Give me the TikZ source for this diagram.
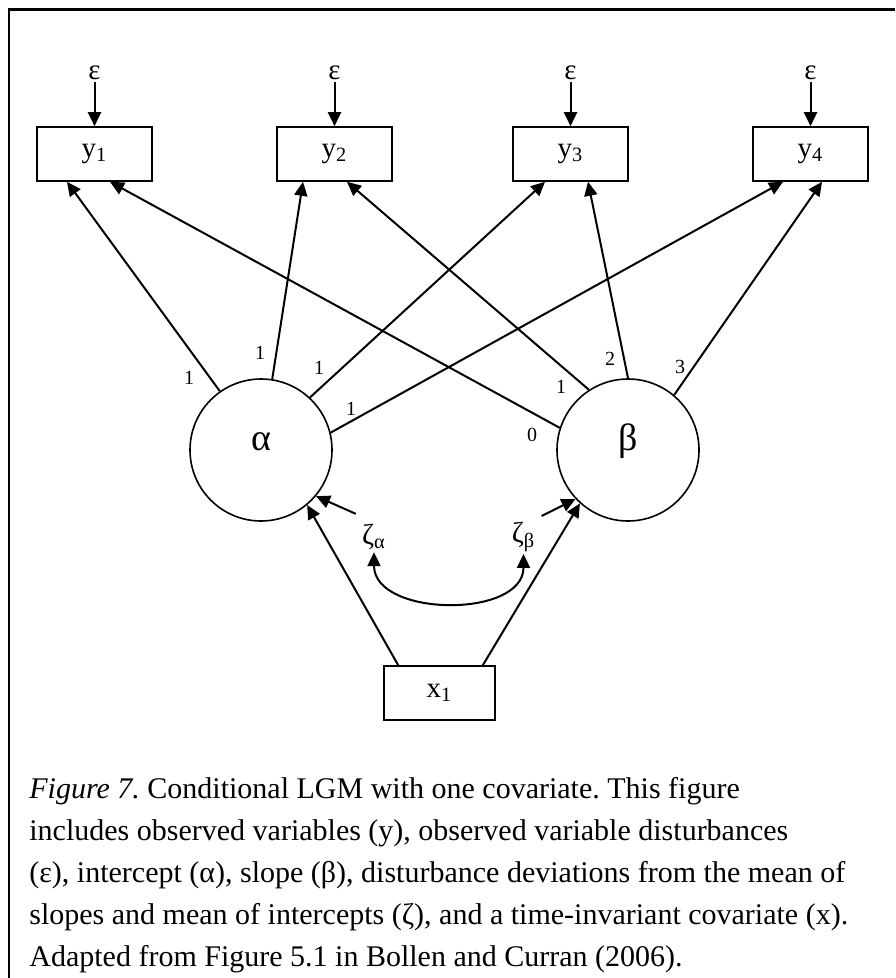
\documentclass[tikz,border=0pt]{standalone}
\usepackage{fontspec}
\setmainfont{Liberation Serif}
\usetikzlibrary{arrows.meta}

\begin{document}
\begin{tikzpicture}[
                x={(0.5pt,0pt)}, y={(0pt,-0.5pt)},
                obs/.style={draw, line width=0.8pt, minimum width=57.5pt, minimum height=27pt,
                    inner sep=0pt, font=\fontsize{14.5}{16}\selectfont},
                lat/.style={draw, circle, line width=0.8pt, minimum size=71pt, inner sep=0pt,
                    text height=6pt, text depth=6pt, font=\fontsize{19}{20}\selectfont},
                err/.style={inner sep=1pt, font=\fontsize{14.5}{16}\selectfont},
                wt/.style={inner sep=0pt, font=\fontsize{10}{12}\selectfont},
                arr/.style={line width=1pt, -{Triangle[length=7pt, width=6.5pt]}} ]

            \useasboundingbox (0,0) rectangle (895,978);
            \draw[line width=1.2pt] (9,978) -- (9,9.5) -- (895,9.5);

            % observed variables and their disturbances
            \foreach \i/\x in {1/94.5, 2/334.5, 3/570.5, 4/810.5} {
                    \node[obs] (y\i) at (\x,154) {y\textsubscript{\i}};
                    \node[err] (e\i) at (\x,73) {ε};
                    \draw[arr] (e\i) -- (y\i);
                }

            \node[lat] (alpha) at (261,450) {α};
            \node[lat] (beta) at (628,450) {β};

            % loadings
            \foreach \i/\ang/\dx/\lx/\ly in {1/125/-13.75/189/378, 2/81/-15.75/260/353,
                    3/47/-12.75/319/368, 4/14/-13.75/351/409} {
                    \draw[arr] (alpha.\ang) -- ([xshift=\dx pt]y\i.south);
                    \node[wt] (wa\i) at (\lx,\ly) {1};
                }
            \foreach \i/\ang/\dx/\lx/\ly/\w in {1/162/7.75/532/435/0, 2/123/6.25/561/387/1,
                    3/90/8.75/610/359/2, 4/50/5.75/680/367/3} {
                    \draw[arr] (beta.\ang) -- ([xshift=\dx pt]y\i.south);
                    \node[wt] (wb\i) at (\lx,\ly) {\w};
                }

            \node[err] (za) at (374,537) {ζ\textsubscript{α}};
            \node[err] (zb) at (523.5,537) {ζ\textsubscript{β}};
            \draw[arr] ([shift={(-4,-8)}]za.north west) -- (alpha.320);
            \draw[arr] ([shift={(4,-4)}]zb.north east) -- (beta.223);
            \draw[arr, {Triangle[length=7pt, width=6.5pt]}-{Triangle[length=7pt, width=6.5pt]}]
            (za.south) .. controls +(0,65) and +(0,65) .. (zb.south);

            \node[obs, minimum width=55.5pt] (x1) at (439.5,693) {x\textsubscript{1}};
            \draw[arr] ([xshift=7.5pt]x1.north west) -- (alpha.310);
            \draw[arr] ([xshift=-6.5pt]x1.north east) -- (beta.228);

            \node[anchor=north west, align=left, inner sep=0pt,
                font=\fontsize{15}{21}\selectfont\frenchspacing] (cap) at (29,777)
            {\textit{Figure 7.} Conditional LGM with one covariate. This figure\\
                includes observed variables (y), observed variable disturbances\\
                (ε), intercept (α), slope (β), disturbance deviations from the mean of\\
                slopes and mean of intercepts (ζ), and a time-invariant covariate (x).\\
                Adapted from Figure 5.1 in Bollen and Curran (2006).};
        \end{tikzpicture}
\end{document}
